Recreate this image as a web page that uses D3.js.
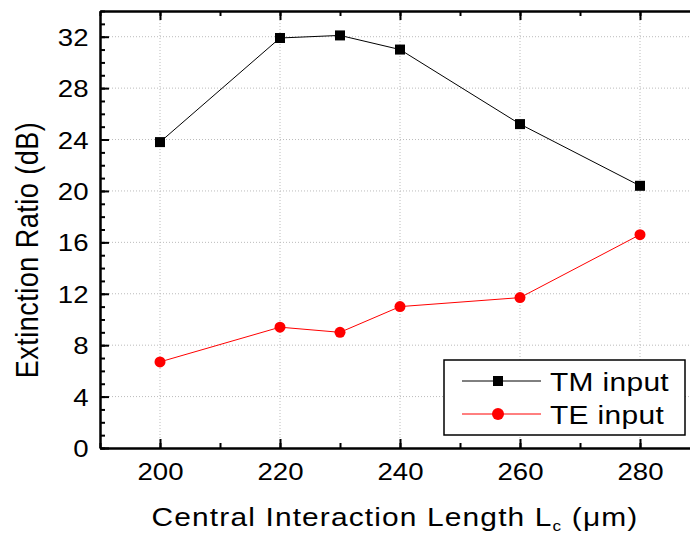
<!DOCTYPE html>
<html>
<head>
<meta charset="utf-8">
<script src="https://cdn.jsdelivr.net/npm/d3@7"></script>
<style>
  body { margin: 0; background: #fff; }
  text { font-family: "Liberation Sans", Arial, sans-serif; fill: #000; }
</style>
</head>
<body>
<svg id="chart" width="690" height="535"></svg>
<script>
// data
const lengths = [200, 220, 230, 240, 260, 280];
const tmInput = [23.8, 31.9, 32.1, 31.0, 25.2, 20.4];
const teInput = [6.7, 9.4, 9.0, 11.0, 11.7, 16.6];
const xTicks = [200, 220, 240, 260, 280];
const yTicks = [0, 4, 8, 12, 16, 20, 24, 28, 32];

const series = [
  { name: "TM input", values: tmInput, color: "#000", marker: "square" },
  { name: "TE input", values: teInput, color: "#ff0000", marker: "circle" },
];

// the original figure's lettering is a bit wide, so stretch text sideways
const stretch = 1.15;

const margin = { top: 11, right: -10, bottom: 87, left: 100 };
const W = 690, H = 535;
const width = W - margin.left - margin.right;
const height = H - margin.top - margin.bottom;

const svg = d3.select("#chart");
const chart = svg.append("g")
  .attr("transform", `translate(${margin.left}, ${margin.top})`);

const x = d3.scaleLinear().domain([190, 290]).range([0, width]);
const y = d3.scaleLinear().domain([0, 34]).range([height, 0]);

// dotted grid at major ticks
chart.append("g")
  .selectAll("line")
  .data(xTicks)
  .enter()
  .append("line")
  .attr("x1", d => x(d)).attr("x2", d => x(d))
  .attr("y1", 0).attr("y2", height)
  .attr("stroke", "#bbb")
  .attr("stroke-dasharray", "1,2");
chart.append("g")
  .selectAll("line")
  .data(yTicks.filter(d => d > 0))
  .enter()
  .append("line")
  .attr("x1", 0).attr("x2", width)
  .attr("y1", d => y(d)).attr("y2", d => y(d))
  .attr("stroke", "#bbb")
  .attr("stroke-dasharray", "1,2");

// axes, ticks pointing inside
const styleAxis = (g) => {
  g.select(".domain").attr("stroke-width", 2);
  g.selectAll(".tick line").attr("stroke-width", 2);
};

const xMinor = d3.range(190, 291, 10);
const yMinor = d3.range(0, 35, 1);

chart.append("g")
  .attr("transform", `translate(0, ${height})`)
  .call(d3.axisBottom(x).tickValues(xMinor).tickSizeInner(-5).tickSizeOuter(0).tickFormat(""))
  .call(styleAxis);
chart.append("g")
  .attr("transform", `translate(0, ${height})`)
  .call(d3.axisBottom(x).tickValues(xTicks).tickSizeInner(-9).tickSizeOuter(0).tickPadding(9))
  .call(styleAxis)
  .call(g => g.selectAll(".tick text")
    .style("font-size", "24px")
    .attr("dy", "0.95em")
    .attr("transform", `scale(${stretch},1)`));

chart.append("g")
  .call(d3.axisTop(x).tickValues(xMinor).tickSizeInner(-5).tickSizeOuter(0).tickFormat(""))
  .call(styleAxis);
chart.append("g")
  .call(d3.axisTop(x).tickValues(xTicks).tickSizeInner(-9).tickSizeOuter(0).tickFormat(""))
  .call(styleAxis);

chart.append("g")
  .call(d3.axisLeft(y).tickValues(yMinor).tickSizeInner(-5).tickSizeOuter(0).tickFormat(""))
  .call(styleAxis);
chart.append("g")
  .call(d3.axisLeft(y).tickValues(yTicks).tickSizeInner(-9).tickSizeOuter(0).tickPadding(10))
  .call(styleAxis)
  .call(g => g.selectAll(".tick text")
    .style("font-size", "24px")
    .attr("dy", "0.36em")
    .attr("transform", `scale(${stretch},1)`));

// series lines and markers
const line = d3.line()
  .x((d, i) => x(lengths[i]))
  .y(d => y(d));

series.forEach(s => {
  chart.append("path")
    .attr("d", line(s.values))
    .attr("fill", "none")
    .attr("stroke", s.color)
    .attr("stroke-width", 1);
  const pts = chart.append("g")
    .selectAll(".pt")
    .data(s.values)
    .enter();
  if (s.marker === "square") {
    pts.append("rect")
      .attr("x", (d, i) => x(lengths[i]) - 5)
      .attr("y", d => y(d) - 5)
      .attr("width", 10).attr("height", 10)
      .attr("fill", s.color);
  } else {
    pts.append("circle")
      .attr("cx", (d, i) => x(lengths[i]))
      .attr("cy", d => y(d))
      .attr("r", 5.5)
      .attr("fill", s.color);
  }
});

// legend
const legend = svg.append("g").attr("transform", "translate(444, 360)");
legend.append("rect")
  .attr("width", 241).attr("height", 75)
  .attr("fill", "#fff").attr("stroke", "#000").attr("stroke-width", 1.5);
series.forEach((s, i) => {
  const ly = 21 + i * 33;
  const row = legend.append("g").attr("transform", `translate(0, ${ly})`);
  row.append("line")
    .attr("x1", 18).attr("x2", 97)
    .attr("stroke", s.color).attr("stroke-width", 1);
  if (s.marker === "square") {
    row.append("rect").attr("x", 49).attr("y", -5).attr("width", 10).attr("height", 10).attr("fill", s.color);
  } else {
    row.append("circle").attr("cx", 54).attr("r", 6).attr("fill", s.color);
  }
  row.append("text")
    .attr("transform", `translate(106, 10) scale(${stretch},1)`)
    .style("font-size", "26px")
    .style("letter-spacing", "0.3px")
    .text(s.name);
});

// axis titles
svg.append("text")
  .attr("transform", `translate(38, 250) rotate(-90) scale(1,${stretch})`)
  .attr("text-anchor", "middle")
  .style("font-size", "27px")
  .style("letter-spacing", "0.5px")
  .text("Extinction Ratio (dB)");

const xt = svg.append("text")
  .attr("transform", `translate(395, 526) scale(${stretch},1)`)
  .attr("text-anchor", "middle")
  .style("font-size", "26px")
  .style("letter-spacing", "1px");
xt.append("tspan").text("Central Interaction Length L");
xt.append("tspan").attr("dy", 5).style("font-size", "15px").text("c");
xt.append("tspan").attr("dy", -5).text(" (\u03bcm)");
</script>
</body>
</html>
